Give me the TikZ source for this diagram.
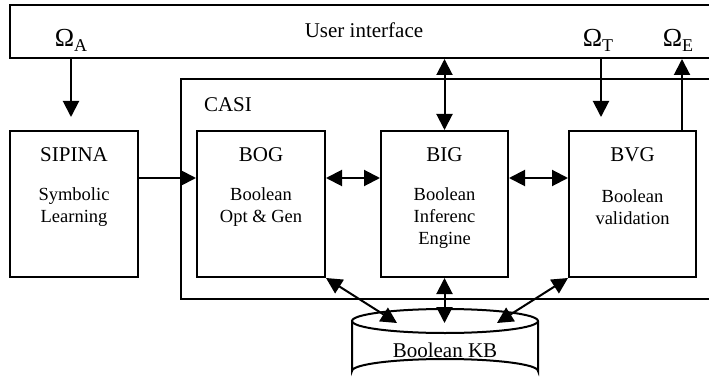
\documentclass[tikz,border=0pt]{standalone}
\usepackage{fontspec}
\setmainfont{Liberation Serif}
\usetikzlibrary{arrows.meta}
\tikzset{
  box/.style={draw, line width=2pt, minimum width=128pt, minimum height=146pt, inner sep=0pt},
  big/.style={font=\fontsize{21}{24}\selectfont, inner sep=0pt},
  body/.style={font=\fontsize{18.5}{22}\selectfont, align=center, inner sep=0pt},
  tip/.style={Triangle[length=16pt,width=16pt]},
  arr/.style={line width=2pt, -{Triangle[length=16pt,width=16pt]}},
  darr/.style={line width=2pt, {Triangle[length=16pt,width=16pt]}-{Triangle[length=16pt,width=16pt]}},
  frame/.style={draw, line width=2pt, inner sep=0pt}
}
\newcommand{\Om}[1]{{\fontsize{26}{26}\selectfont Ω}\raisebox{-5pt}{\fontsize{18}{18}\selectfont #1}}
\begin{document}
\begin{tikzpicture}[x=1pt,y=-1pt]
\clip (0,0) rectangle (709,385);
\fill[white] (0,0) rectangle (709,385);
% user interface frame
\node[frame, minimum width=712pt, minimum height=53pt] (ui) at (366,31.5) {};
\node[big] (uitext) at (364,30) {User interface};
% CASI frame
\node[frame, minimum width=542pt, minimum height=220pt] (casi) at (452,189) {};
\node[big] (casitext) at (228,105) {CASI};
% boxes
\node[box] (sipina) at (74,204) {};
\node[box] (bog) at (261,204) {};
\node[box, minimum width=127pt] (bigb) at (444.5,204) {};
\node[box, minimum width=127pt] (bvg) at (632.5,204) {};
\node[big] (t1) at (74,155) {SIPINA};
\node[big] (t2) at (261,155) {BOG};
\node[big] (t3) at (444.5,155) {BIG};
\node[big] (t4) at (632.5,155) {BVG};
\node[body] (b1) at (74,207) {Symbolic\\Learning};
\node[body] (b2) at (261,207) {Boolean\\Opt \& Gen};
\node[body] (b3) at (444.5,218) {Boolean\\Inferenc\\Engine};
\node[body] (b4) at (632.5,207) {Boolean\\validation};
% omega labels
\node[inner sep=0pt] (oA) at (71,40) {\Om{A}};
\node[inner sep=0pt] (oT) at (598,40) {\Om{T}};
\node[inner sep=0pt] (oE) at (678,40) {\Om{E}};
% cylinder
\draw[line width=2pt, fill=white] (352,321) -- (352,371) arc[start angle=180, end angle=360, x radius=93, y radius=12] -- (538,321);
\draw[line width=2pt] (445,321) ellipse [x radius=93, y radius=12];
\node[big] (kb) at (445,350) {Boolean KB};
% coordinates
\coordinate (y1) at (0,178);
\coordinate (tipA) at (71,117);
\coordinate (tipT) at (601,117);
\coordinate (xE) at (682,0);
\coordinate (kbl) at (397,323);
\coordinate (kbm) at (444.5,323);
\coordinate (kbr) at (497,323);
% connectors
\draw[arr] (ui.south -| tipA) -- (tipA);
\draw[arr] (ui.south -| tipT) -- (tipT);
\draw[arr] (bvg.north -| xE) -- (ui.south -| xE);
\draw[darr] (ui.south -| bigb.north) -- (bigb.north);
\draw[arr] (sipina.east |- y1) -- (bog.west |- y1);
\draw[darr] (bog.east |- y1) -- (bigb.west |- y1);
\draw[darr] (bigb.east |- y1) -- (bvg.west |- y1);
\draw[darr] (bog.south east) -- (kbl);
\draw[darr] (bigb.south) -- (kbm);
\draw[darr] (bvg.south west) -- (kbr);
\end{tikzpicture}
\end{document}
